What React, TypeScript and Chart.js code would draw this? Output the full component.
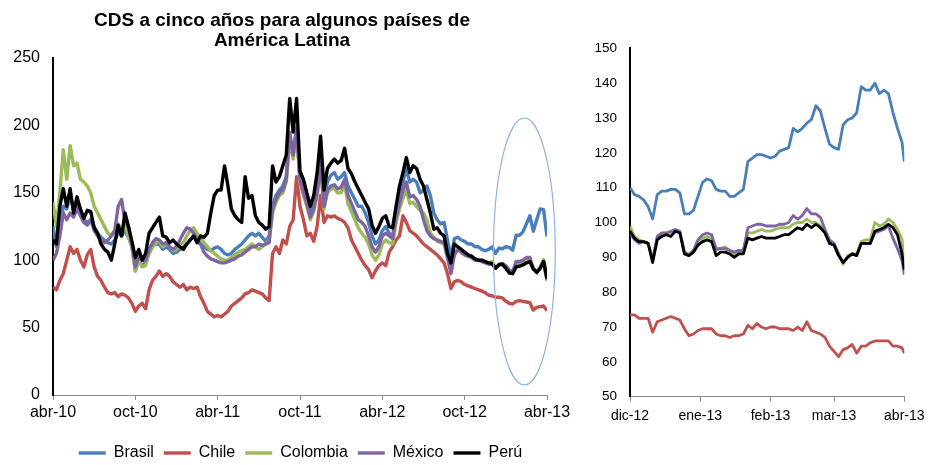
import React, { useEffect, useRef } from "react";
import { Chart, registerables } from "chart.js";

Chart.register(...registerables);

const FONT = "'Liberation Sans', Arial, Helvetica, sans-serif";

const seriesNames = ["Brasil", "Chile", "Colombia", "México", "Perú"];
const seriesColors = ["#4A7EBB", "#C0504D", "#9BBB59", "#8064A2", "#000000"];

// ---------- Left chart: months since abr-10, one point every quarter month ----------
const leftTickLabels = ["abr-10", "oct-10", "abr-11", "oct-11", "abr-12", "oct-12", "abr-13"];
const leftTickMonths = [0, 6, 12, 18, 24, 30, 36];
const leftMonths = Array.from({ length: 145 }, (_, i) => i / 4);

const leftBrasil = [
  125, 110, 122, 140, 138, 148, 138, 142, 135, 130, 128, 130, 125, 120, 117, 115, 113, 112, 115, 120, 118, 122, 117, 110,
  92, 100, 96, 98, 105, 110, 112, 112, 108, 110, 108, 105, 106, 108, 110, 112, 115, 118, 114, 112, 110, 108, 107, 109,
  110, 108, 105, 104, 105, 108, 110, 112, 115, 118, 120, 118, 120, 117, 114, 118, 140, 148, 152, 155, 162, 192, 178, 198,
  160, 155, 145, 135, 142, 150, 175, 145, 158, 163, 165, 160, 162, 165, 155, 150, 145, 140, 140, 135, 128, 118, 112, 115,
  122, 125, 120, 118, 135, 150, 158, 168, 158, 160, 158, 150, 152, 155, 148, 135, 130, 127, 128, 115, 102, 116, 117, 115,
  114, 112, 112, 110, 110, 108, 107, 108,
  110, 105, 109, 108.5, 110, 109.5, 107.5, 118.5, 118.5, 121, 127, 133, 121.5, 130, 138, 137.5, 117.5,
];
const leftChile = [
  80, 78, 85, 90, 100, 110, 105, 108, 100, 95, 104, 108, 95, 88, 85, 80, 76, 75, 76, 73, 75, 74, 72, 68,
  62, 66, 68, 64, 78, 85, 88, 92, 88, 90, 88, 84, 82, 80, 82, 78, 80, 79, 80, 73, 68, 62, 60, 58,
  59, 58, 60, 62, 66, 68, 70, 72, 75, 76, 78, 77, 76, 75, 72, 70, 105, 110, 105, 115, 112, 125, 130, 162,
  140, 130, 118, 120, 114, 125, 148, 128, 133, 132, 133, 131, 130, 128, 124, 115, 110, 105, 100, 96, 93, 87, 92, 96,
  98, 96, 106, 110, 115, 118, 133, 128, 122, 120, 118, 115, 112, 110, 108, 106, 104, 101, 98, 90, 79, 84, 85, 84,
  82, 81, 80, 79, 78, 77, 76, 74,
  73.5, 72.5, 72.5, 72, 69.5, 68, 67.5, 69.5, 70, 69.5, 69, 68.5, 63, 65, 65.5, 66, 62.5,
];
const leftColombia = [
  143, 125, 150, 182, 160, 185, 170, 172, 160, 158, 155, 150, 140, 135, 130, 125, 120, 118, 122, 127, 122, 125, 118, 110,
  92, 100, 95, 96, 105, 110, 113, 114, 110, 112, 110, 107, 108, 112, 113, 118, 122, 124, 120, 117, 113, 110, 107, 105,
  103, 101, 100, 100, 102, 104, 106, 107, 108, 110, 112, 110, 108, 110, 112, 115, 135, 143, 148, 150, 158, 190, 175, 195,
  158, 148, 140, 130, 136, 148, 170, 138, 150, 153, 153, 150, 150, 156, 142, 136, 130, 124, 120, 117, 112, 104, 100, 104,
  112, 115, 113, 112, 128, 138, 146, 152, 142, 143, 140, 137, 135, 130, 120, 117, 114, 113, 112, 102, 94, 105, 108, 106,
  104, 103, 102, 101, 100, 100, 99, 98,
  99, 94, 97, 97.5, 95, 92, 91, 97, 97.5, 98.5, 100, 99.5, 94, 91, 95, 100.5, 89,
];
const leftMexico = [
  100, 105, 118, 135, 130, 135, 132, 138, 133, 128, 126, 130, 122, 118, 115, 113, 115, 118, 122, 140, 145, 128, 125, 112,
  95, 103, 100, 100, 108, 113, 116, 115, 112, 113, 110, 108, 110, 115, 120, 124, 123, 120, 116, 112, 106, 103, 101, 100,
  99, 98, 98, 99, 100, 101, 103, 104, 106, 108, 110, 110, 112, 111, 112, 113, 138, 145, 150, 152, 160, 195, 178, 198,
  160, 150, 142, 132, 138, 150, 172, 140, 152, 155, 156, 153, 154, 160, 148, 142, 136, 130, 128, 125, 118, 110, 106, 110,
  118, 120, 118, 116, 132, 142, 152, 158, 147, 148, 145, 140, 130, 122, 118, 116, 115, 114, 113, 102, 90, 104, 108, 106,
  104, 103, 102, 100, 100, 99, 98, 97,
  97, 94, 97, 97.5, 96, 92.5, 91.5, 99, 99, 100, 102, 102, 94, 91, 94, 98.5, 85,
];
const leftPeru = [
  115, 112, 140, 153, 140, 153, 135, 147, 138, 131, 137, 136, 124, 120, 112, 108, 106, 100, 112, 126, 118, 135, 125, 114,
  102, 108, 100, 105, 120, 124, 128, 132, 118, 117, 113, 115, 112, 110, 108, 112, 115, 118, 113, 118, 117, 120, 135, 148,
  152, 152, 170, 155, 138, 133, 130, 128, 162, 146, 148, 133, 128, 126, 123, 125, 170, 158, 162, 170, 178, 220, 195, 220,
  166, 160, 150, 140, 148, 165, 192, 152, 168, 172, 175, 172, 174, 183, 168, 164, 158, 153, 148, 143, 138, 126, 120, 125,
  131, 133, 125, 124, 140, 155, 165, 176, 165, 170, 168, 160, 155, 145, 135, 123, 124, 120, 118, 105, 98, 112, 110, 108,
  106, 104, 103, 101, 100, 100, 99, 98,
  97.5, 94, 96.5, 97, 94, 90.5, 90, 95, 95.5, 96.5, 98, 99, 93.5, 91, 94, 99, 86.5,
];
const leftSeries = [leftBrasil, leftChile, leftColombia, leftMexico, leftPeru];

// highlighted window (months since abr-10, CDS values)
const ellipseMonths = [32.1, 36.6];
const ellipseValues = [7.5, 205.5];

// ---------- Right chart: days since 1 dic-12 ----------
const rightTickLabels = ["dic-12", "ene-13", "feb-13", "mar-13", "abr-13"];
const rightTickDays = [0, 31, 62, 90, 121];
const rightDays = [...Array.from({ length: 61 }, (_, i) => i * 2), 121];

const rightBrasil = [
  110, 108, 107.5, 106.5, 104.5, 101, 108, 109, 109, 109.5, 109.5,
  108.5, 102.5, 102.5, 103.5, 107.5, 111.5, 112.5, 112, 109.5, 109,
  109, 107.5, 107.5, 108.5, 109.5, 117.5, 118.5, 119.5, 119.5, 119,
  118.5, 119, 120.5, 121, 121.5, 127, 126, 127, 128.5, 129.5,
  133.5, 132, 127, 122.5, 121.5, 121, 128, 129.5, 130, 131.5,
  139, 138, 138, 140, 137, 138, 137, 131.5, 127, 123,
  117.5,
];
const rightChile = [
  73.5, 73.5, 72.5, 72.5, 72.5, 68.5, 71.5, 72, 72.5, 73, 72.5,
  72, 69.5, 67.5, 68, 69, 69.5, 69.5, 69.5, 68, 67.5,
  67.5, 67, 67.5, 67.5, 68, 70.5, 69.5, 71, 70, 69.5,
  70, 70, 69.5, 69.5, 69.5, 69, 70, 69, 71.5, 69,
  68.5, 68, 67, 64.5, 63, 61.5, 63.5, 64, 65, 62.5,
  64.5, 64.5, 65.5, 66, 66, 66, 66, 64.5, 64.5, 64,
  62.5,
];
const rightColombia = [
  99, 96, 95, 94.5, 94, 89, 95.5, 96.5, 97, 97, 97.5,
  97.5, 91.5, 91, 92, 94.5, 95.5, 96, 95.5, 92, 92.5,
  93, 92, 91, 91.5, 92, 97, 97, 97.5, 98, 97.5,
  97.5, 98, 98.5, 98.5, 98.5, 99.5, 100, 100, 101, 100,
  100, 99, 97.5, 94.5, 94, 91, 88, 90.5, 91, 91,
  94.5, 95, 95, 100, 99, 99.5, 101, 100, 98, 95,
  89,
];
const rightMexico = [
  97, 95, 94, 94.5, 94, 89.5, 96, 97, 97, 97.5, 98,
  97.5, 91.5, 90.5, 92, 95, 96.5, 97, 96.5, 92.5, 92.5,
  92.5, 92, 91.5, 92, 92, 98.5, 99, 99.5, 99.5, 99,
  99, 99, 99.5, 99.5, 100, 102, 101, 102, 104, 102.5,
  102.5, 101.5, 98, 95, 94, 91, 88.5, 90, 91, 90.5,
  94, 94, 94, 97, 97.5, 98, 99, 95.5, 92.5, 89,
  85,
];
const rightPeru = [
  97.5, 95.5, 94.5, 94.5, 94, 88.5, 95, 96, 96.5, 96, 97.5,
  97, 91, 90.5, 91.5, 93.5, 94.5, 95, 94.5, 90.5, 91.5,
  91.5, 91, 90, 91, 91, 95.5, 95, 95.5, 96, 95.5,
  95.5, 95.5, 96, 96.5, 96.5, 97.5, 98.5, 98, 99.5, 98.5,
  99.5, 98.5, 97, 94, 93.5, 90.5, 88.5, 90, 91, 90.5,
  94, 94, 94, 97.5, 98, 98.5, 99.5, 98.5, 96.5, 91,
  86.5,
];
const rightSeries = [rightBrasil, rightChile, rightColombia, rightMexico, rightPeru];

Chart.defaults.font.family = FONT;
Chart.defaults.color = "#000";

const ellipsePlugin = {
  id: "zoomEllipse",
  afterDatasetsDraw(chart: any) {
    const { ctx, scales } = chart;
    const xs = scales.x;
    const ys = scales.y;
    const xa = xs.getPixelForValue(ellipseMonths[0]);
    const xb = xs.getPixelForValue(ellipseMonths[1]);
    const ya = ys.getPixelForValue(ellipseValues[0]);
    const yb = ys.getPixelForValue(ellipseValues[1]);
    ctx.save();
    ctx.beginPath();
    ctx.ellipse((xa + xb) / 2, (ya + yb) / 2, Math.abs(xb - xa) / 2, Math.abs(yb - ya) / 2, 0, 0, Math.PI * 2);
    ctx.strokeStyle = "#8DB4E2";
    ctx.lineWidth = 1.2;
    ctx.stroke();
    ctx.restore();
  },
};

function makeDatasets(xs: number[], series: number[][], width: number) {
  return series.map((arr, i) => ({
    label: seriesNames[i],
    data: xs.map((x, k) => ({ x, y: arr[k] })),
    borderColor: seriesColors[i],
    backgroundColor: seriesColors[i],
    borderWidth: width,
    pointRadius: 0,
    tension: 0,
    order: 5 - i,
    borderJoinStyle: "round",
  }));
}

function leftConfig(): any {
  return {
    type: "line",
    data: { datasets: makeDatasets(leftMonths, leftSeries, 3.4) },
    options: {
      responsive: false,
      animation: false,
      layout: { padding: { left: 0, right: 0, top: 58, bottom: 0 } },
      plugins: {
        title: { display: false },
        tooltip: { enabled: false },
        legend: {
          position: "bottom",
          labels: {
            usePointStyle: true,
            pointStyle: "line",
            pointStyleWidth: 27,
            padding: 10,
            color: "#000",
            font: { family: FONT, size: 16 },
            sort: (a: any, b: any) => a.datasetIndex - b.datasetIndex,
          },
        },
      },
      scales: {
        x: {
          type: "linear",
          min: 0,
          max: 36,
          afterBuildTicks: (s: any) => {
            s.ticks = leftTickMonths.map((v) => ({ value: v }));
          },
          ticks: {
            callback: (_v: any, i: number) => leftTickLabels[i],
            autoSkip: false,
            maxRotation: 0,
            minRotation: 0,
            padding: 3,
            color: "#000",
            font: { family: FONT, size: 16 },
          },
          grid: { display: true, drawOnChartArea: false, drawTicks: true, tickLength: 5, color: "#8C8C8C" },
          border: { display: true, color: "#8C8C8C", width: 1 },
          afterFit: (s: any) => {
            s.height = 40;
          },
        },
        y: {
          type: "linear",
          position: "left",
          min: 0,
          max: 250,
          ticks: { stepSize: 50, padding: 13, color: "#000", font: { family: FONT, size: 16 } },
          grid: { display: false, drawTicks: false },
          border: { display: true, color: "#000", width: 2 },
          afterFit: (s: any) => {
            s.width = 53;
          },
        },
        yR: {
          type: "linear",
          position: "right",
          display: true,
          ticks: { display: false },
          grid: { display: false, drawTicks: false },
          border: { display: false },
          afterFit: (s: any) => {
            s.width = 54;
          },
        },
      },
    },
    plugins: [ellipsePlugin],
  };
}

function rightConfig(): any {
  return {
    type: "line",
    data: { datasets: makeDatasets(rightDays, rightSeries, 2.8) },
    options: {
      responsive: false,
      animation: false,
      layout: { padding: { left: 0, right: 27.7, top: 48.3, bottom: 0 } },
      plugins: {
        title: { display: false },
        tooltip: { enabled: false },
        legend: { display: false },
      },
      scales: {
        x: {
          type: "linear",
          min: 0,
          max: 121,
          afterBuildTicks: (s: any) => {
            s.ticks = rightTickDays.map((v) => ({ value: v }));
          },
          ticks: {
            callback: (_v: any, i: number) => rightTickLabels[i],
            autoSkip: false,
            maxRotation: 0,
            minRotation: 0,
            padding: 6.5,
            color: "#000",
            font: { family: FONT, size: 14 },
          },
          grid: { display: true, drawOnChartArea: false, drawTicks: true, tickLength: 5, color: "#8C8C8C" },
          border: { display: true, color: "#8C8C8C", width: 1 },
          afterFit: (s: any) => {
            s.height = 68.3;
          },
        },
        y: {
          type: "linear",
          position: "left",
          min: 50,
          max: 150,
          ticks: { stepSize: 10, padding: 13, color: "#000", font: { family: FONT, size: 13.5 } },
          grid: { display: false, drawTicks: false },
          border: { display: true, color: "#000", width: 2 },
          afterFit: (s: any) => {
            s.width = 45;
          },
        },
      },
    },
  };
}

function ChartCanvas(props: { make: () => any; left: number; width: number; height: number }) {
  const ref = useRef<HTMLCanvasElement | null>(null);
  useEffect(() => {
    const chart = new Chart(ref.current as HTMLCanvasElement, props.make());
    return () => chart.destroy();
  }, []);
  return (
    <canvas
      ref={ref}
      width={props.width}
      height={props.height}
      style={{ position: "absolute", left: props.left, top: 0, width: props.width, height: props.height }}
    />
  );
}

export default function App() {
  return (
    <div
      style={{
        position: "fixed",
        left: 0,
        top: 0,
        width: 932,
        height: 465,
        overflow: "hidden",
        background: "#FFFFFF",
      }}
    >
      <ChartCanvas make={leftConfig} left={0} width={601} height={471} />
      <ChartCanvas make={rightConfig} left={585} width={347} height={465} />
      <div
        style={{
          position: "absolute",
          left: 0,
          top: 10,
          width: 564,
          textAlign: "center",
          fontFamily: FONT,
          fontWeight: "bold",
          fontSize: 19,
          lineHeight: "20px",
          color: "#000",
        }}
      >
        CDS a cinco años para algunos países de
        <br />
        América Latina
      </div>
    </div>
  );
}
